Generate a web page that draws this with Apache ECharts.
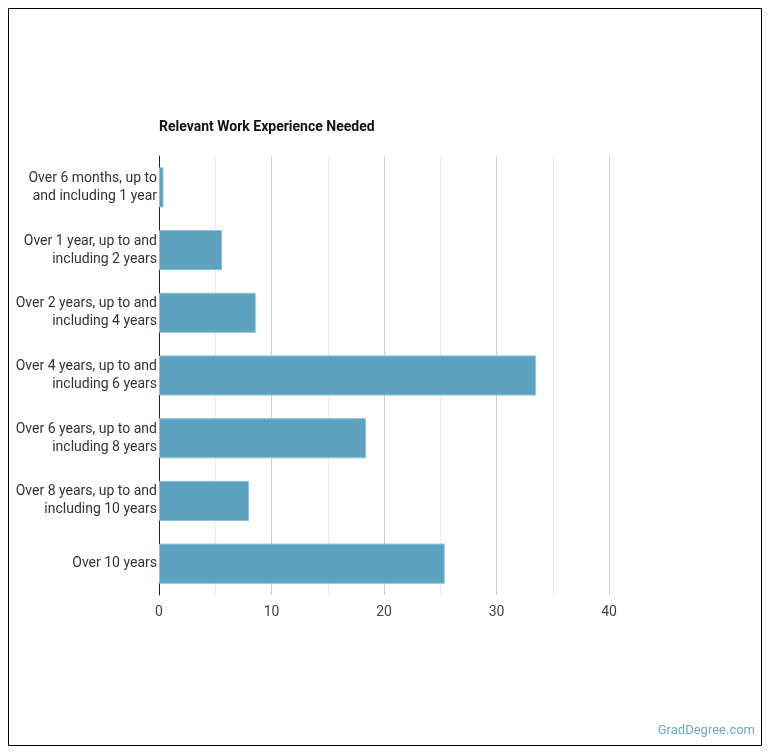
<!DOCTYPE html>
<html>
<head>
<meta charset="utf-8">
<script src="https://cdn.jsdelivr.net/npm/echarts@6/dist/echarts.min.js"></script>
<style>
html,body{margin:0;padding:0;background:#fff;}
#chart{width:770px;height:754px;}
</style>
</head>
<body>
<div id="chart"></div>
<script>
const titleText = "Relevant Work Experience Needed";
const categories = [
  "Over 6 months, up to\nand including 1 year",
  "Over 1 year, up to and\nincluding 2 years",
  "Over 2 years, up to and\nincluding 4 years",
  "Over 4 years, up to and\nincluding 6 years",
  "Over 6 years, up to and\nincluding 8 years",
  "Over 8 years, up to and\nincluding 10 years",
  "Over 10 years"
];
const values = [0.4, 5.6, 8.6, 33.5, 18.4, 8.0, 25.4];
const xTicks = [0, 10, 20, 30, 40];
const watermark = "GradDegree.com";

const chart = echarts.init(document.getElementById('chart'), null, {renderer: 'canvas'});
const font = 'Roboto, "Liberation Sans", sans-serif';
chart.setOption({
  animation: false,
  backgroundColor: '#fff',
  textStyle: {fontFamily: font},
  title: {
    text: titleText,
    left: 154, top: 115,
    textStyle: {fontSize: 14, fontWeight: 'bold', color: '#111', fontFamily: font}
  },
  grid: {left: 159, right: 161, top: 156, bottom: 159, containLabel: false},
  xAxis: {
    type: 'value', min: 0, max: 40, interval: 5,
    axisLine: {show: false}, axisTick: {show: false},
    axisLabel: {
      fontSize: 14, color: '#444', margin: 10, fontFamily: font,
      formatter: v => xTicks.includes(v) ? String(v) : ''
    },
    splitLine: {
      show: true,
      lineStyle: {color: ['#cfcfcf','#ececec','#cfcfcf','#ececec','#cfcfcf','#ececec','#cfcfcf','#ececec','#cfcfcf'], width: 1}
    }
  },
  yAxis: {
    type: 'category', data: categories, inverse: true,
    axisLine: {show: true, lineStyle: {color: '#222', width: 1}},
    axisTick: {show: false},
    axisLabel: {fontSize: 14, color: '#333', margin: 2, lineHeight: 18, align: 'right', fontFamily: font, padding: [5, 0, 0, 0]},
    splitLine: {show: false}
  },
  series: [{
    type: 'bar', data: values, barCategoryGap: '36%',
    itemStyle: {color: '#5ca2bf', borderColor: '#8cc4d9', borderWidth: 1},
    silent: true
  }],
  graphic: [
    {type: 'rect', shape: {x: 8.5, y: 8.5, width: 753, height: 737}, style: {fill: 'none', stroke: '#000', lineWidth: 1}, silent: true},
    {type: 'text', right: 15, top: 724, style: {text: watermark, fill: '#6ea8c2', font: '13px ' + font}, silent: true}
  ]
});
</script>
</body>
</html>
